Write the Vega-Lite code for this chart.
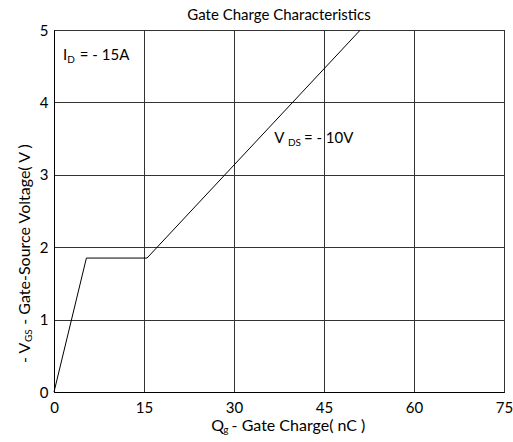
{
  "$schema": "https://vega.github.io/schema/vega-lite/v6.json",
  "autosize": "none",
  "padding": {"left": 54, "top": 30, "right": 9, "bottom": 50},
  "width": 450,
  "height": 362,
  "background": "white",
  "title": {"text": "Gate Charge Characteristics", "font": "Lato", "fontSize": 15, "fontWeight": "normal", "color": "black", "anchor": "middle", "offset": 0},
  "config": {
    "view": {"stroke": "black", "strokeWidth": 1},
    "axis": {"labelFont": "Lato", "labelFontSize": 15, "labelColor": "black", "ticks": false, "domainColor": "black", "gridColor": "#333333", "gridOpacity": 1, "gridWidth": 1, "labelFlush": false, "labelOverlap": false, "title": null, "format": "d"},
    "text": {"font": "Lato", "color": "black"}
  },
  "datasets": {
    "curve": [
      {"qg": 0, "vgs": 0},
      {"qg": 5.4, "vgs": 1.85},
      {"qg": 15.5, "vgs": 1.85},
      {"qg": 51.05, "vgs": 5}
    ],
    "labels": [
      {"x": 1.5, "y": 4.585, "t": "I"},
      {"x": 4.3, "y": 4.585, "t": "= - 15A"},
      {"x": 36.7, "y": 3.44, "t": "V"},
      {"x": 41.65, "y": 3.44, "t": "= - 10V"}
    ],
    "subs": [
      {"x": 2.2, "y": 4.545, "t": "D"},
      {"x": 39.0, "y": 3.40, "t": "DS"}
    ],
    "xtitle": [
      {"x": 26.2, "y": -0.54, "t": "Q"},
      {"x": 29.6, "y": -0.54, "t": "- Gate Charge( nC )"}
    ],
    "xtitlesub": [
      {"x": 28.2, "y": -0.56, "t": "g"}
    ],
    "ytitle": [
      {"x": -3.98, "y": 0.40, "t": "- V"},
      {"x": -3.98, "y": 0.93, "t": "- Gate-Source Voltage( V )"}
    ],
    "ytitlesub": [
      {"x": -3.65, "y": 0.69, "t": "GS"}
    ]
  },
  "layer": [
    {
      "data": {"name": "curve"},
      "mark": {"type": "line", "color": "black", "strokeWidth": 1},
      "encoding": {
        "x": {"field": "qg", "type": "quantitative", "scale": {"domain": [0, 75], "nice": false, "zero": false}, "axis": {"values": [0, 15, 30, 45, 60, 75], "labelPadding": 8}},
        "y": {"field": "vgs", "type": "quantitative", "scale": {"domain": [0, 5], "nice": false, "zero": false}, "axis": {"values": [0, 1, 2, 3, 4, 5], "labelPadding": 6}}
      }
    },
    {
      "data": {"name": "labels"},
      "mark": {"type": "text", "fontSize": 15, "align": "left", "baseline": "alphabetic"},
      "encoding": {
        "x": {"field": "x", "type": "quantitative"},
        "y": {"field": "y", "type": "quantitative"},
        "text": {"field": "t"}
      }
    },
    {
      "data": {"name": "subs"},
      "mark": {"type": "text", "fontSize": 10, "align": "left", "baseline": "alphabetic"},
      "encoding": {
        "x": {"field": "x", "type": "quantitative"},
        "y": {"field": "y", "type": "quantitative"},
        "text": {"field": "t"}
      }
    },
    {
      "data": {"name": "xtitle"},
      "mark": {"type": "text", "fontSize": 16, "align": "left", "baseline": "alphabetic"},
      "encoding": {
        "x": {"field": "x", "type": "quantitative"},
        "y": {"field": "y", "type": "quantitative"},
        "text": {"field": "t"}
      }
    },
    {
      "data": {"name": "xtitlesub"},
      "mark": {"type": "text", "fontSize": 10, "align": "left", "baseline": "alphabetic"},
      "encoding": {
        "x": {"field": "x", "type": "quantitative"},
        "y": {"field": "y", "type": "quantitative"},
        "text": {"field": "t"}
      }
    },
    {
      "data": {"name": "ytitle"},
      "mark": {"type": "text", "fontSize": 16, "align": "left", "baseline": "alphabetic", "angle": 270},
      "encoding": {
        "x": {"field": "x", "type": "quantitative"},
        "y": {"field": "y", "type": "quantitative"},
        "text": {"field": "t"}
      }
    },
    {
      "data": {"name": "ytitlesub"},
      "mark": {"type": "text", "fontSize": 10, "align": "left", "baseline": "alphabetic", "angle": 270},
      "encoding": {
        "x": {"field": "x", "type": "quantitative"},
        "y": {"field": "y", "type": "quantitative"},
        "text": {"field": "t"}
      }
    }
  ]
}
